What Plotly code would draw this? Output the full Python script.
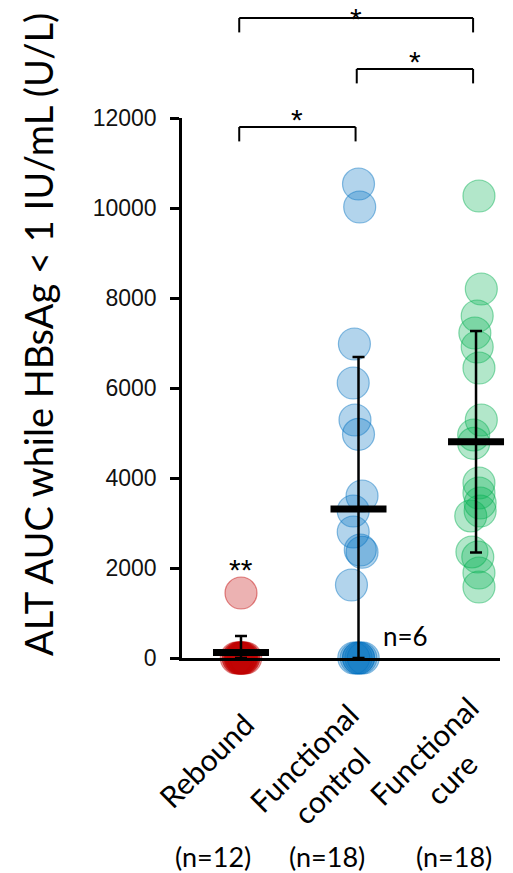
import plotly.graph_objects as go

# ---------------- data ----------------
categories = ["Rebound", "Functional<br>control", "Functional<br>cure"]
n_labels = ["(n=12)", "(n=18)", "(n=18)"]

rebound_vals = [1444, 0, 0, 0, 0, 0, 0, 0, 0, 0, 0, 0]
rebound_offs = [0.0, -0.04, -0.025, -0.01, 0.0, 0.01, 0.025, 0.04, -0.02, 0.02, -0.005, 0.005]

control_vals = [10533, 10022, 6978, 6111, 5289, 4970, 3600, 3267, 2800, 2400, 2350, 1622,
                0, 0, 0, 0, 0, 0]
control_offs = [0.0, 0.01, -0.035, -0.045, -0.03, 0.0, 0.03, -0.045, -0.045, 0.015, 0.03, -0.06,
                -0.04, -0.02, 0.0, 0.02, 0.04, 0.0]

cure_vals = [10267, 8200, 7600, 7222, 6911, 6444, 5289, 4956, 4770, 3889, 3667, 3444, 3156, 3267,
             2356, 2244, 1889, 1578]
cure_offs = [0.025, 0.045, 0.01, -0.01, 0.01, 0.025, 0.045, -0.02, -0.02, 0.025, 0.025, 0.035,
             -0.045, 0.035, -0.035, 0.015, 0.025, 0.025]

means = [120, 3311, 4807]
sds = [370, 3378, 2460]

y_ticks = [0, 2000, 4000, 6000, 8000, 10000, 12000]

# significance brackets: (group a, group b, bracket height in data units, label)
brackets = [(0, 2, 14222, "*"), (1, 2, 13089, "*"), (0, 1, 11800, "*")]
extra_marks = [(0, 1550, "**")]      # label above a group
n_note = (1.4, 480, "n=6")

colors = [(192, 0, 0), (0, 112, 192), (0, 176, 80)]

# ---------------- figure ----------------
YMAX = 12000
PL, PT, PW, PH = 182, 118, 318, 540
fig = go.Figure()

groups = [(rebound_vals, rebound_offs), (control_vals, control_offs), (cure_vals, cure_offs)]
for i, (vals, offs) in enumerate(groups):
    r, g, b = colors[i]
    fig.add_trace(go.Scatter(
        x=[i + o for o in offs], y=vals, mode="markers",
        marker=dict(size=32, color=f"rgba({r},{g},{b},0.3)",
                    line=dict(color=f"rgba({r},{g},{b},0.45)", width=1.2)),
        cliponaxis=False, showlegend=False, hoverinfo="skip"))

fig.add_trace(go.Scatter(
    x=[0, 1, 2], y=means, mode="markers",
    marker=dict(symbol="line-ew", size=40, line=dict(color="black", width=7)),
    error_y=dict(type="data", symmetric=False, array=sds,
                 arrayminus=[min(m, s) for m, s in zip(means, sds)],
                 color="black", thickness=2.5, width=6),
    cliponaxis=False, showlegend=False, hoverinfo="skip"))

annotations = []
shapes = []
drop = 320
star_font = dict(family="Liberation Sans", size=30, color="black")
paper_top = 1 + PT / PH
for a, b, h, lab in brackets:
    x0, x1 = a - 0.015, b - 0.025
    for (xa, ya, xb, yb) in [(x0, h - drop, x0, h), (x0, h, x1, h), (x1, h, x1, h - drop)]:
        shapes.append(dict(type="line", xref="x", yref="paper",
                           x0=xa, x1=xb, y0=ya / YMAX, y1=yb / YMAX,
                           line=dict(color="black", width=2)))
    ann = dict(x=(x0 + x1) / 2, y=(h - 240) / YMAX, xref="x", yref="paper",
               text=lab, showarrow=False, xanchor="center", yanchor="bottom", font=star_font)
    # keep the label box inside the page
    if (h - 240) / YMAX + 37 / PH > paper_top:
        ann.update(y=paper_top, yanchor="top")
    annotations.append(ann)

for gi, yv, lab in extra_marks:
    annotations.append(dict(x=gi, y=yv / YMAX, xref="x", yref="paper", text=lab,
                            showarrow=False, xanchor="center", yanchor="bottom",
                            font=star_font))

annotations.append(dict(x=n_note[0], y=n_note[1] / YMAX, xref="x", yref="paper", text=n_note[2],
                        showarrow=False, xanchor="center", yanchor="middle",
                        font=dict(family="Lato", size=26, color="black")))

# category labels (rotated) and n labels
cat_centers = [(206, 760), (317, 771), (437, 764)]
for (cx, cy), lab in zip(cat_centers, categories):
    annotations.append(dict(x=(cx - PL) / PW, y=(PT + PH - cy) / PH, xref="paper", yref="paper",
                            text=lab, showarrow=False, textangle=-45, xanchor="center",
                            yanchor="middle", align="center",
                            font=dict(family="Lato", size=30, color="black")))
for i, lab in enumerate(n_labels):
    annotations.append(dict(x=i + [-0.24, -0.27, -0.19][i], y=(PT + PH - 856) / PH, xref="x", yref="paper",
                            text=lab, showarrow=False, xanchor="center", yanchor="middle",
                            font=dict(family="Lato", size=27, color="black")))

annotations.append(dict(x=(38 - PL) / PW, y=(PT + PH - 335) / PH, xref="paper", yref="paper",
                        text="ALT AUC while HBsAg &lt; 1 IU/mL (U/L)", showarrow=False,
                        textangle=-90, xanchor="center", yanchor="middle",
                        font=dict(family="Lato", size=38, color="black")))

fig.update_layout(
    width=513, height=873, margin=dict(l=PL, r=13, t=PT, b=873 - PT - PH),
    plot_bgcolor="white", paper_bgcolor="white",
    shapes=shapes, annotations=annotations,
    xaxis=dict(range=[-0.502, 2.204], showgrid=False, zeroline=False, showline=True,
               linecolor="black", linewidth=2.5, showticklabels=False, ticks=""),
    yaxis=dict(range=[0, YMAX], tickvals=y_ticks, tickformat="d", showgrid=False, zeroline=False,
               showline=True, linecolor="black", linewidth=2.5, ticks="outside",
               ticklen=9, tickwidth=2.5, tickcolor="black", ticklabelstandoff=9,
               tickfont=dict(family="Liberation Sans", size=23, color="#111")),
)

fig.write_html("out.html")
